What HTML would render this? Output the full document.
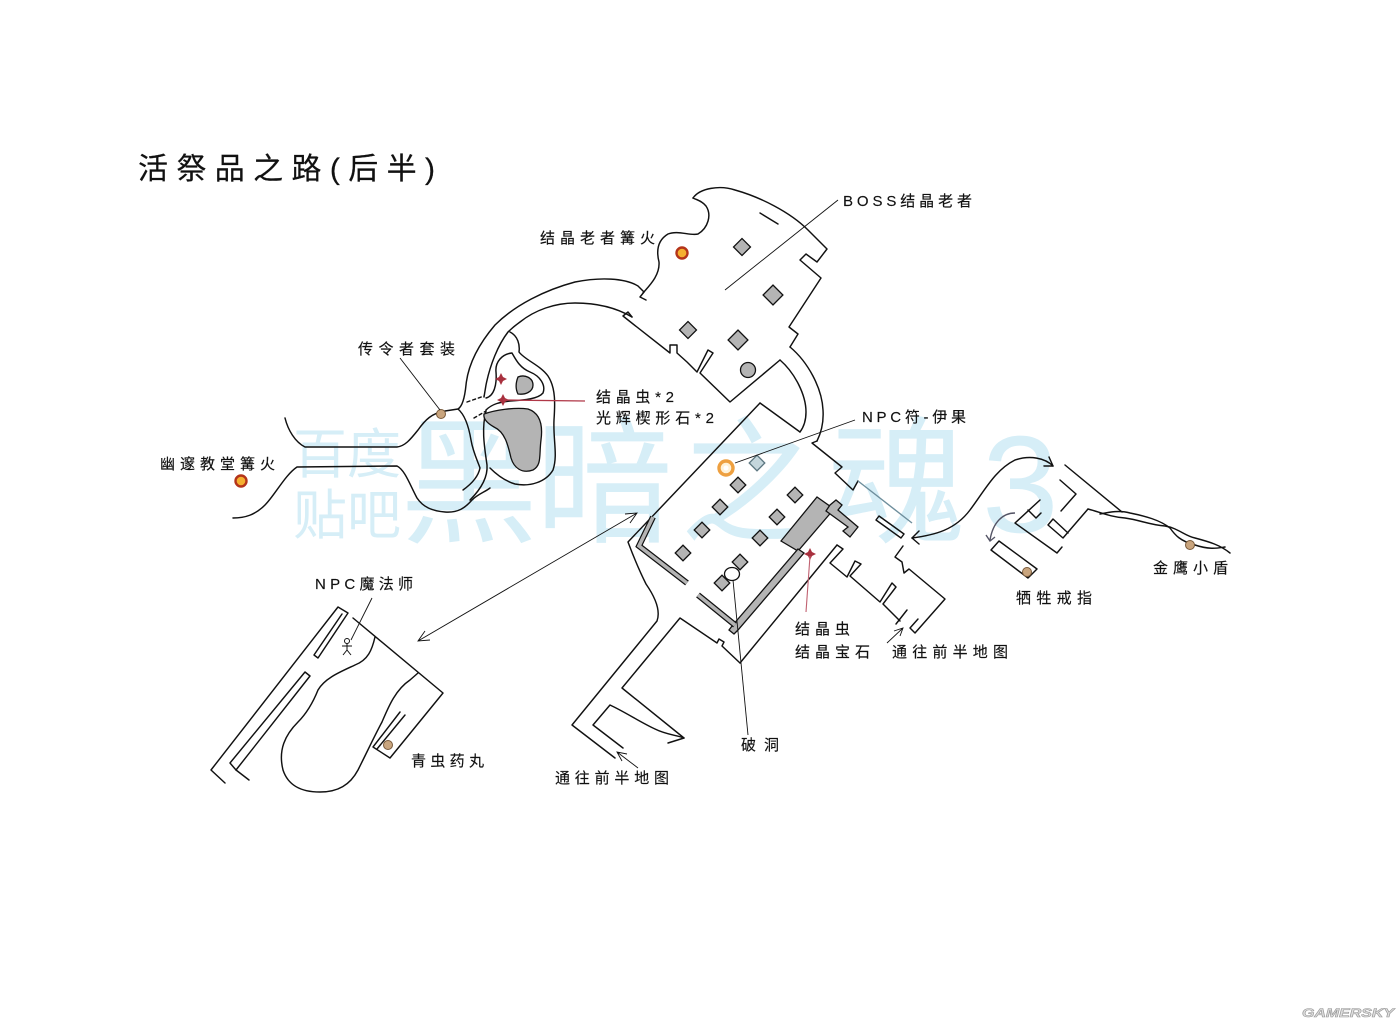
<!DOCTYPE html>
<html><head><meta charset="utf-8"><style>
html,body{margin:0;padding:0;background:#fff;}
svg{display:block;}
.l{fill:none;stroke:#111;stroke-width:1.45;stroke-linejoin:round;stroke-linecap:round;}
.t{fill:#111;stroke:#111;stroke-width:0.15;font-family:"Liberation Sans","Noto Sans CJK SC",sans-serif;font-size:15px;font-weight:400;}
.p{fill:#b4b4b4;stroke:#111;stroke-width:1.3;}
.wm{font-family:"Liberation Sans","Noto Sans CJK SC",sans-serif;font-weight:400;fill:#d6eef7;}
</style></head><body>
<svg width="1400" height="1024" viewBox="0 0 1400 1024" xmlns="http://www.w3.org/2000/svg">
<rect width="1400" height="1024" fill="#fff"/>
<!-- watermark -->
<text class="wm" x="293" y="473" font-size="54" fill="#dcf0f7">百度</text>
<text class="wm" x="293" y="534" font-size="54" fill="#dcf0f7">贴吧</text>
<text class="wm" x="400" y="532" font-size="138">黑</text>
<text class="wm" x="535" y="532" font-size="138">暗</text>
<text class="wm" x="680" y="532" font-size="138">之</text>
<text class="wm" x="828" y="532" font-size="138">魂</text>
<text class="wm" x="982" y="532" font-size="138">3</text>

<!-- title -->
<text x="138" y="179" textLength="297" lengthAdjust="spacing" style="font-family:'Liberation Sans','Noto Sans CJK SC',sans-serif;font-size:30px;font-weight:400;fill:#111;stroke:#111;stroke-width:0.2">活祭品之路(后半)</text>

<!-- west corridor -->
<path class="l" d="M285,418 C288,430 295,442 305,447 L397,447 C405,446 410,440 418,430 C425,420 432,413 445,411 L458,409 C463,406 465,395 466,385 C468,365 478,345 495,325 C515,305 545,290 575,282 C600,277 625,278 638,286 L644,292 L640,297 L646,300"/>
<path class="l" d="M233,518 C245,518 255,515 265,505 C275,495 285,475 297,467 L397,466 C405,470 410,485 417,498 C423,507 432,511 445,512 C458,513 465,508 472,500 C478,494 485,492 490,488"/>
<path class="l" d="M458,409 C465,415 469,428 471,440 C473,452 478,462 480,468 C478,478 470,485 463,490"/>
<path class="l" d="M632,317 C615,307 595,303 575,303 C555,303 535,310 520,322 C513,327 510,330 508,332 C498,345 490,365 486,385 L484,397"/>
<path class="l" d="M486,411 C481,430 485,450 487,465 C488,478 480,490 470,500"/>
<path class="l" stroke-dasharray="3,3" d="M467,402 L484,396 M474,418 L486,411"/>
<path class="l" d="M510,332 C518,336 520,345 519,352 C525,360 540,365 548,376 C556,388 555,405 554,420 C553,440 558,455 553,470 C546,482 530,487 515,484 C505,481 497,475 490,468"/>
<path class="l" d="M486,398 C494,396 497,385 496,372 C495,362 502,354 512,353 C516,360 520,368 530,372 C540,376 546,385 543,393 C538,399 525,400 510,401 C500,402 492,404 486,410"/>
<path class="p" d="M484,414 C495,410 515,407 528,409 C540,413 543,425 541,440 C539,455 542,465 533,470 C522,474 514,468 511,458 C508,445 505,432 494,427 C487,423 483,419 484,414 Z"/>
<path class="p" d="M518,377 C525,374 533,378 533,385 C533,392 525,395 518,394 C515,388 516,382 518,377 Z"/>

<!-- boss room -->
<path class="l" d="M693,198 C700,188 720,185 735,190 C760,197 790,212 808,230 L827,249 L817,262 L806,254 L800,260 L821,278 L789,327 L798,334 L790,347"/>
<path class="l" d="M780,360 L730,402 L700,373 L713,353 L708,350 L697,372 L687,362 L677,353 L677,345 L670,345 L670,353 L628,320 L623,316 L628,312 L632,317"/>
<path class="l" d="M643,293 C650,285 660,275 659,262 C656,250 658,240 668,234 C678,230 690,236 698,234 C708,228 712,215 706,206 C702,201 697,200 693,198"/>
<path class="l" d="M760,213 L778,224"/>
<path class="l" d="M790,347 C808,362 822,388 823,410 C824,425 820,435 817,441"/>
<path class="l" d="M780,360 C795,373 806,395 806,412 C806,422 803,428 800,432"/>
<g class="p">
<rect x="-6" y="-6" width="12" height="12" transform="translate(742,247) rotate(45)"/>
<rect x="-7" y="-7" width="14" height="14" transform="translate(773,295) rotate(45)"/>
<rect x="-6" y="-6" width="12" height="12" transform="translate(688,330) rotate(45)"/>
<rect x="-7" y="-7" width="14" height="14" transform="translate(738,340) rotate(45)"/>
<circle cx="748" cy="370" r="7.5"/>
</g>

<!-- NPC room -->
<path class="l" d="M760,403 L800,432"/>
<path class="l" d="M817,441 L812,443 L842,467 L835,473 L853,490 L858,481"/>
<path d="M858,481 L912,523" fill="none" stroke="#6e8e9c" stroke-width="1.4"/>
<path class="l" d="M876,520 L879,516 L904,534 L901,538 Z"/>
<path class="l" d="M903,546 L895,557 L902,562 L904,573 L909,569 L945,599 L915,633 L910,628 L918,619"/>
<path class="l" d="M837,545 L843,549 L830,563 L847,577 L855,561 L861,564 L850,576 L880,602 L892,583 L896,587 L883,604 L900,621"/>
<path class="l" d="M907,610 L896,624"/>
<path class="l" d="M740,663 L837,545"/>
<path class="l" d="M760,403 L628,542 C634,558 640,572 646,584 C655,597 661,610 657,621 L572,725 L615,758"/>
<path class="l" d="M623,748 L593,725 L610,705 C625,712 640,722 655,729 C667,735 677,735 684,738 L668,743"/>
<path class="l" d="M684,738 L622,688 L680,618 L717,643 L719,639 L724,642 L722,646 L740,663"/>
<!-- grey walls -->
<path class="p" d="M781,541 L817,497 L834,509 L798,551 Z"/>
<path class="p" d="M830,505 L836,500 L842,505 L838,510 L858,527 L850,537 L843,531 L848,527 L826,511 Z"/>
<path class="p" d="M798,549 L804,553 L738,630 L734,634 L729,630 L732,626 Z"/>
<path d="M653,517 L639,546 L687,583" fill="none" stroke="#111" stroke-width="6" stroke-linejoin="miter"/>
<path d="M653,517 L639,546 L687,583" fill="none" stroke="#b4b4b4" stroke-width="3.6" stroke-linejoin="miter"/>
<path d="M698,595 L735,625" fill="none" stroke="#111" stroke-width="6"/>
<path d="M698,595 L735,625" fill="none" stroke="#b4b4b4" stroke-width="3.6"/>
<g class="p">
<rect x="-5.5" y="-5.5" width="11" height="11" transform="translate(757,463) rotate(45)" style="fill:#c4d6dc;stroke:#5c7680"/>
<rect x="-5.5" y="-5.5" width="11" height="11" transform="translate(738,485) rotate(45)"/>
<rect x="-5.5" y="-5.5" width="11" height="11" transform="translate(795,495) rotate(45)"/>
<rect x="-5.5" y="-5.5" width="11" height="11" transform="translate(720,507) rotate(45)"/>
<rect x="-5.5" y="-5.5" width="11" height="11" transform="translate(777,517) rotate(45)"/>
<rect x="-5.5" y="-5.5" width="11" height="11" transform="translate(702,530) rotate(45)"/>
<rect x="-5.5" y="-5.5" width="11" height="11" transform="translate(760,538) rotate(45)"/>
<rect x="-5.5" y="-5.5" width="11" height="11" transform="translate(683,553) rotate(45)"/>
<rect x="-5.5" y="-5.5" width="11" height="11" transform="translate(740,562) rotate(45)"/>
<rect x="-5.5" y="-5.5" width="11" height="11" transform="translate(722,583) rotate(45)"/>
</g>
<ellipse cx="732" cy="574" rx="7.5" ry="6.5" fill="#fff" stroke="#111" stroke-width="1.3"/>

<!-- magic room -->
<path class="l" d="M225,783 L211,770 L338,607 L348,613 L318,658 L314,655 L342,614"/>
<path class="l" d="M305,672 L230,763 L236,770 L310,676 Z"/>
<path class="l" d="M236,770 L249,780"/>
<path class="l" d="M353,618 L443,693 L390,758 L373,747 L400,712 M377,749 L405,715"/>
<path class="l" d="M375,637 C372,650 368,660 355,665 C340,672 325,678 318,690 C312,705 305,715 298,722 C285,735 278,750 283,770 C288,785 300,792 320,792 C338,792 350,785 358,770 C368,750 375,735 382,722 C388,708 395,690 410,680 L418,673"/>
<g fill="none" stroke="#111" stroke-width="1">
<circle cx="347" cy="641" r="2.5"/>
<path d="M347,643.5 L347,650 M342,646 L352,646 M347,650 L343,655 M347,650 L351,655"/>
</g>
<circle cx="388" cy="745" r="4.5" fill="#c9a57e" stroke="#7a5a3a" stroke-width="1"/>

<!-- east structure -->
<path class="l" d="M1065,465 L1122,512"/>
<path class="l" d="M1060,480 L1076,494 L1061,511"/>
<path class="l" d="M1088,509 L1063,538 L1048,525 L1053,519 L1068,533"/>
<path class="l" d="M1040,500 L1015,523 L1057,553 L1062,547 M1028,510 L1036,518 L1041,513"/>
<path class="l" d="M991,550 L999,541 L1037,569 L1028,578 Z"/>
<path class="l" d="M1088,509 C1100,512 1110,517 1125,518 C1140,520 1150,525 1165,526 C1178,528 1185,536 1195,538 C1210,542 1220,545 1230,553"/>
<path class="l" d="M1100,514 C1110,512 1120,510 1130,513 C1145,516 1160,520 1170,528 C1175,535 1180,541 1195,545 C1210,550 1218,548 1225,547"/>
<circle cx="1190" cy="545" r="4.5" fill="#c9a57e" stroke="#7a5a3a" stroke-width="1"/>
<circle cx="1027" cy="572" r="4.5" fill="#c9a57e" stroke="#7a5a3a" stroke-width="1"/>
<!-- curved arrows -->
<path class="l" d="M912,538 C935,535 955,530 970,510 C985,490 995,470 1015,460 C1030,455 1045,458 1053,466"/>
<path class="l" d="M919,531 L912,538 L919,544 M1049,457 L1053,466 L1044,466"/>
<path d="M1015,513 C1003,513 993,522 990,540 M986,535 L990,541 L995,537" fill="none" stroke="#556" stroke-width="1.4"/>

<!-- dots, bonfires -->
<circle cx="441" cy="414" r="4.5" fill="#c9a57e" stroke="#7a5a3a" stroke-width="1"/>
<circle cx="682" cy="253" r="5.5" fill="#f5b030" stroke="#b4341a" stroke-width="2.4"/>
<circle cx="241" cy="481" r="5.5" fill="#f5b030" stroke="#b4341a" stroke-width="2.4"/>
<circle cx="726" cy="468" r="7" fill="#fff2d8" stroke="#eea040" stroke-width="3.4"/>
<circle cx="726" cy="468" r="2.5" fill="#fff"/>

<!-- red stars -->
<g fill="#a8303e">
<path d="M501,373 L503,377 L507,379 L503,381 L501,385 L499,381 L495,379 L499,377 Z"/>
<path d="M503,394 L505,398 L509,400 L505,402 L503,406 L501,402 L497,400 L501,398 Z"/>
<path d="M810,548 L812,552 L816,554 L812,556 L810,560 L808,556 L804,554 L808,552 Z"/>
</g>
<path d="M503,400 L585,401" stroke="#b03848" stroke-width="1.3" fill="none"/>
<path d="M810,556 L806,612" stroke="#c06070" stroke-width="1.1" fill="none"/>

<!-- pointer lines -->
<g fill="none" stroke="#111" stroke-width="0.9">
<path d="M838,200 L725,290"/>
<path d="M400,358 L440,410"/>
<path d="M855,420 L735,463"/>
<path d="M733,580 L748,735"/>
<path d="M372,598 L351,640"/>
<path d="M418,641 L637,513 M625,514 L637,513 L630,523 M430,640 L418,641 L425,631"/>
<path d="M638,768 L617,752 M622,761 L617,752 L627,754"/>
<path d="M887,643 L903,628 M894,631 L903,628 L900,636"/>
</g>

<!-- labels -->
<text class="t" x="843" y="206" textLength="129" lengthAdjust="spacing">BOSS结晶老者</text>
<text class="t" x="540" y="243" textLength="115" lengthAdjust="spacing">结晶老者篝火</text>
<text class="t" x="358" y="354" textLength="97" lengthAdjust="spacing">传令者套装</text>
<text class="t" x="596" y="402" textLength="78" lengthAdjust="spacing">结晶虫*2</text>
<text class="t" x="596" y="423" textLength="118" lengthAdjust="spacing">光辉楔形石*2</text>
<text class="t" x="862" y="422" textLength="104" lengthAdjust="spacing">NPC符-伊果</text>
<text class="t" x="160" y="469" textLength="115" lengthAdjust="spacing">幽邃教堂篝火</text>
<text class="t" x="315" y="589" textLength="98" lengthAdjust="spacing">NPC魔法师</text>
<text class="t" x="795" y="634" textLength="55" lengthAdjust="spacing">结晶虫</text>
<text class="t" x="795" y="657" textLength="75" lengthAdjust="spacing">结晶宝石</text>
<text class="t" x="892" y="657" textLength="116" lengthAdjust="spacing">通往前半地图</text>
<text class="t" x="1016" y="603" textLength="76" lengthAdjust="spacing">牺牲戒指</text>
<text class="t" x="1153" y="573" textLength="75" lengthAdjust="spacing">金鹰小盾</text>
<text class="t" x="741" y="750" textLength="38" lengthAdjust="spacing">破洞</text>
<text class="t" x="411" y="766" textLength="73" lengthAdjust="spacing">青虫药丸</text>
<text class="t" x="555" y="783" textLength="114" lengthAdjust="spacing">通往前半地图</text>

<!-- logo -->
<text x="1302" y="1017" style="font-family:'Liberation Sans',sans-serif;font-size:12px;font-weight:bold;font-style:italic;fill:#e0e0e0;stroke:#9a9a9a;stroke-width:0.6" textLength="92" lengthAdjust="spacingAndGlyphs">GAMERSKY</text>
</svg>
</body></html>
